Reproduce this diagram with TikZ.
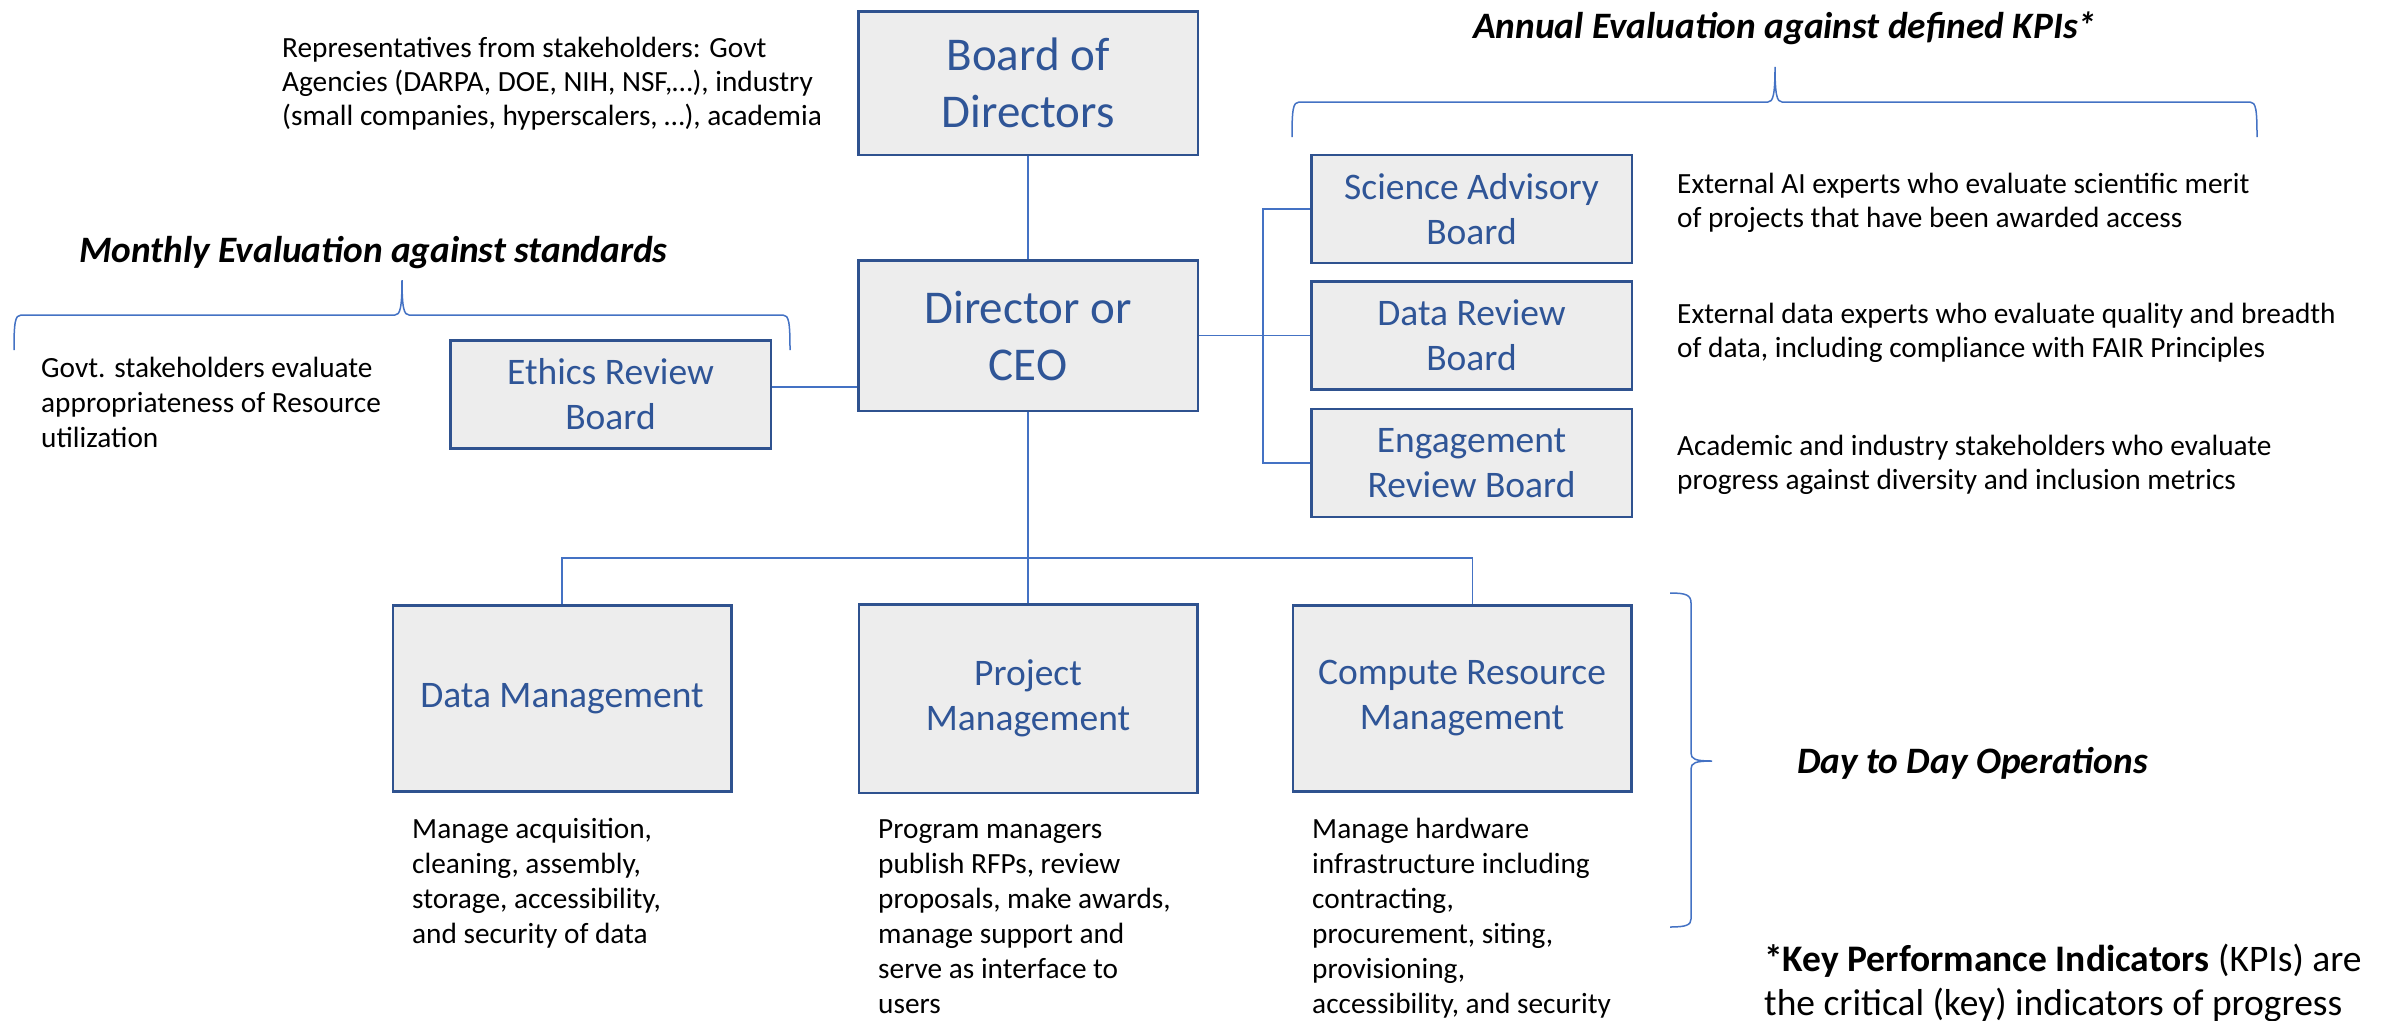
\documentclass[tikz,border=0pt]{standalone}
\usepackage{fontspec}
\setmainfont{Carlito}
\usetikzlibrary{positioning}

\definecolor{boxfill}{HTML}{EDEDED}
\definecolor{boxline}{HTML}{2F528F}
\definecolor{boxtext}{HTML}{2F5597}
\definecolor{linkblue}{HTML}{4472C4}

\begin{document}
\begin{tikzpicture}[x=1pt,y=-1pt,
  main node/.style={rectangle,draw=boxline,line width=2.5pt,fill=boxfill,
  text=boxtext,align=center,inner sep=0pt,font=\fontsize{37.5}{45}\selectfont},
  top node/.style={main node,minimum width=339.5pt,font=\fontsize{47}{57}\selectfont},
  board node/.style={main node,minimum width=320.5pt,minimum height=108pt},
  unit node/.style={main node,minimum width=338.5pt,minimum height=186pt},
  desc/.style={anchor=base west,align=left,inner sep=0pt,
  font=\fontsize{29.3}{35}\selectfont},
  heading/.style={anchor=base west,inner sep=0pt,
  font=\bfseries\itshape\fontsize{37.3}{40}\selectfont},
  link/.style={draw=linkblue,line width=1.3pt},
  brace/.style={draw=linkblue,line width=1.5pt}]

  \path[use as bounding box,fill=white] (0,0) rectangle (2384,1020);

  \node[top node,minimum height=143.5pt] (BOD) at (1028,83) {Board of\\Directors};
  \node[top node,minimum height=150.5pt] (DIR) [below=103pt of BOD] {Director or\\CEO};
  \node[board node] (ETH) [left=85pt of DIR,yshift=-59pt] {Ethics Review\\Board};
  \node[board node] (DRB) [right=111pt of DIR] {Data Review\\Board};
  \node[board node] (SAB) [above=16pt of DRB] {Science Advisory\\Board};
  \node[board node] (ENG) [below=17pt of DRB] {Engagement\\Review Board};
  \node[unit node,minimum height=188.5pt] (PM) [below=191pt of DIR] {Project\\Management};
  \node[unit node] (DM) [left=125pt of PM] {Data Management};
  \node[unit node] (CRM) [right=93pt of PM] {Compute Resource\\Management};

  % texts beside the boxes (placed at the baseline of their last line)
  \node[desc,font=\fontsize{29.3}{34}\selectfont] (BODtxt) at (282,125)
    {Representatives from stakeholders: Govt\\Agencies (DARPA, DOE, NIH, NSF,…), industry\\(small companies, hyperscalers, …), academia};
  \node[desc] (ETHtxt) at (41,447)
    {Govt. stakeholders evaluate\\appropriateness of Resource\\utilization};
  \node[desc,font=\fontsize{29.3}{34}\selectfont] (SABtxt) at (1677,227)
    {External AI experts who evaluate scientific merit\\of projects that have been awarded access};
  \node[desc,font=\fontsize{29.3}{34}\selectfont] (DRBtxt) at (1677,357)
    {External data experts who evaluate quality and breadth\\of data, including compliance with FAIR Principles};
  \node[desc,font=\fontsize{29.3}{34}\selectfont] (ENGtxt) at (1677,489)
    {Academic and industry stakeholders who evaluate\\progress against diversity and inclusion metrics};
  \node[desc] (DMtxt) at (412,943)
    {Manage acquisition,\\cleaning, assembly,\\storage, accessibility,\\and security of data};
  \node[desc] (PMtxt) at (878,1013)
    {Program managers\\publish RFPs, review\\proposals, make awards,\\manage support and\\serve as interface to\\users};
  \node[desc] (CRMtxt) at (1312,1013)
    {Manage hardware\\infrastructure including\\contracting,\\procurement, siting,\\provisioning,\\accessibility, and security};

  % headings
  \node[heading] (annual) at (1473,38) {Annual Evaluation against defined KPIs*};
  \node[heading] (monthly) at (79,262) {Monthly Evaluation against standards};
  \node[heading] (daily) at (1797,773) {Day to Day Operations};
  \node[desc,font=\fontsize{37.5}{44}\selectfont] (kpi) at (1764,1015)
    {\textbf{*Key Performance Indicators} (KPIs) are\\the critical (key) indicators of progress};

  % connectors
  \draw[link] (BOD) -- (DIR);
  \draw[link] (DIR) -- (PM);
  \draw[link] (DIR.east) -- (DRB.west);
  \draw[link] (SAB.west) -- ++(-47,0) |- (ENG.west);
  \draw[link] ([yshift=7.5pt]ETH.east) coordinate (ethend) -- (ethend -| DIR.west);
  \coordinate (bus) at (1028,558);
  \draw[link] (DM.north) |- (bus) -| ([xshift=10.5pt]CRM.north);

  % braces
  \draw[brace] (1292,137) .. controls (1292,110) and (1293,102) .. (1299,102)
    -- (1768,102) .. controls (1773,102) and (1775,95) .. (1775,67)
    .. controls (1775,95) and (1777,102) .. (1782,102)
    -- (2250,102) .. controls (2256,102) and (2257,110) .. (2257,137);
  \draw[brace] (14,350) .. controls (14,323) and (15,315) .. (21,315)
    -- (395,315) .. controls (400,315) and (402,308) .. (402,280)
    .. controls (402,308) and (404,315) .. (409,315)
    -- (783,315) .. controls (789,315) and (790,323) .. (790,350);
  \draw[brace] (1670,593) .. controls (1686,593) and (1691,595) .. (1691,603)
    -- (1691,753) .. controls (1691,759) and (1695,761) .. (1712,761)
    .. controls (1695,761) and (1691,763) .. (1691,769)
    -- (1691,919) .. controls (1691,925) and (1686,927) .. (1670,927);
\end{tikzpicture}
\end{document}
